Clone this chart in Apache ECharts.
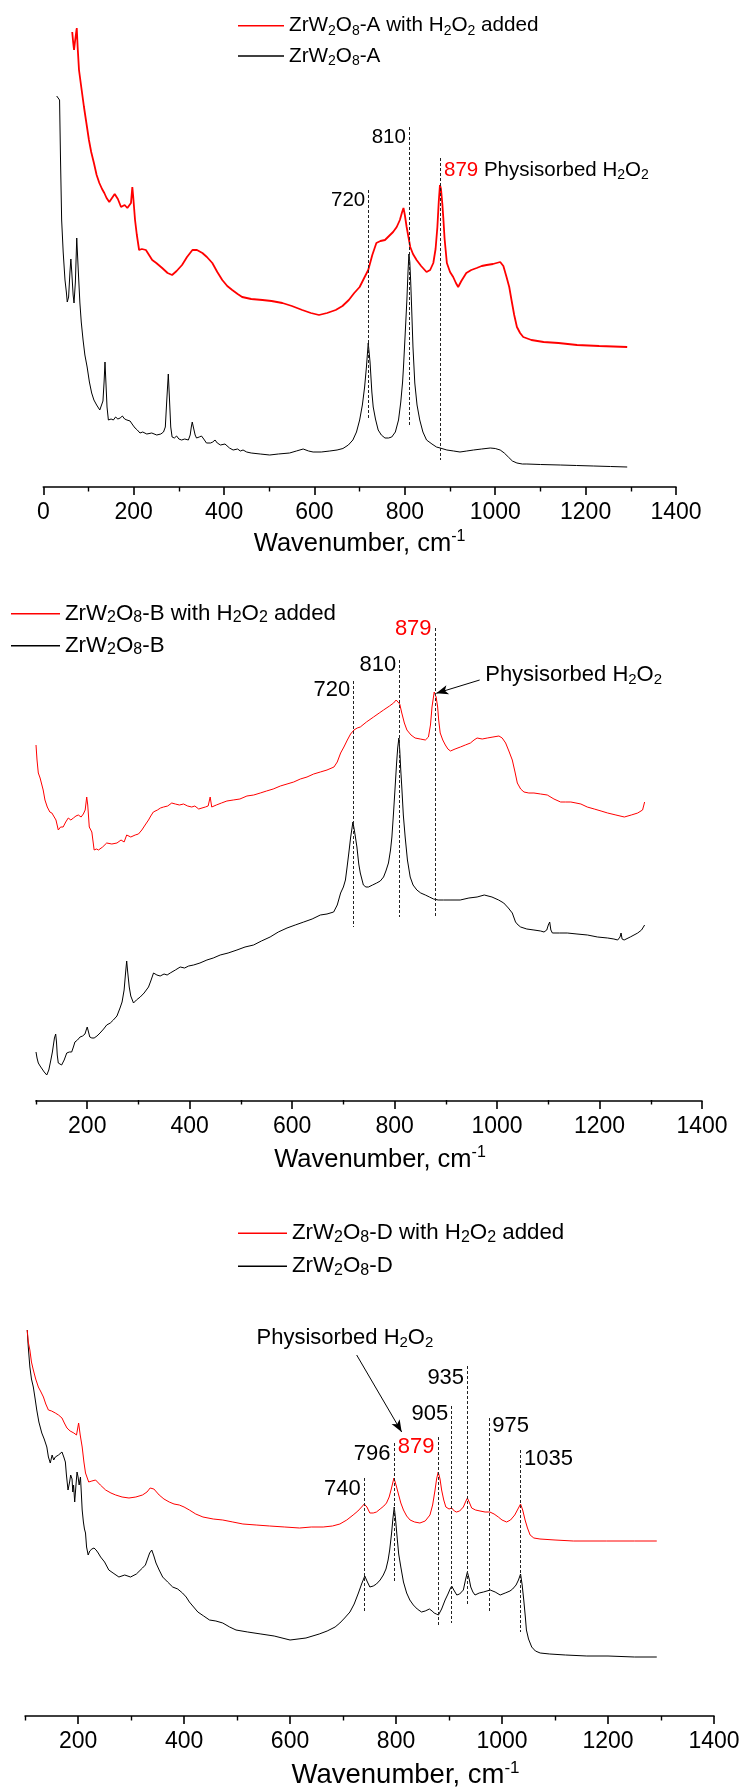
<!DOCTYPE html>
<html>
<head>
<meta charset="utf-8">
<title>Raman spectra of ZrW2O8 samples with and without H2O2</title>
<script src="https://cdn.jsdelivr.net/npm/echarts@6/dist/echarts.min.js"></script>
<style>
  html, body { margin: 0; padding: 0; background: #ffffff; }
  #chart { width: 743px; height: 1792px; }
</style>
</head>
<body>
<div id="chart"></div>
<script>
const FONT = '"Liberation Sans", Arial, Helvetica, sans-serif';
const RED = '#ff0000';
const BLACK = '#000000';

// ---- Raman spectra: [wavenumber (cm-1), intensity (a.u., offset per trace)] ----

// Sample A
const specA_H2O2 = [[64,455],[66,445],[68,437],[70,445],[72,452],[74,459],[76,440],[79,417],[84,400],[90,380],[95,365],[101,347],[106,335],[112,324],[118,312],[124,304],[130,298],[135,294],[140,289],[146,285],[152,289],[158,293],[161,294],[165,288],[172,280],[180,282],[186,279],[190,279],[194,284],[197,300],[199,290],[203,267],[207,252],[212,237],[218,238],[227,237],[234,232],[241,227],[250,224],[263,219],[275,214],[285,212],[295,216],[307,222],[318,230],[330,237],[340,237],[352,234],[362,230],[374,224],[385,215],[396,207],[407,201],[418,197],[430,193],[440,190],[460,188],[485,187],[505,186],[529,184],[550,181],[573,177],[592,174],[610,172],[628,174],[647,177],[662,181],[676,187],[688,194],[700,200],[710,209],[719,217],[728,232],[737,244],[746,246],[756,247],[765,251],[774,255],[782,260],[789,267],[794,275],[797,279],[800,272],[804,260],[808,250],[812,240],[818,233],[826,227],[836,221],[848,215],[856,217],[863,224],[868,238],[872,260],[875,285],[877.7,302],[880,298],[883,283],[885,270],[888,248],[893,224],[900,215],[907,210],[913,204],[918,200],[925,206],[936,214],[947,217],[959,219],[970,221],[981,222],[995,223],[1011,225],[1018,221],[1025,210],[1031,200],[1036,187],[1042,172],[1048,160],[1055,154],[1062,150],[1080,147],[1107,145],[1140,144],[1181,142],[1230,141],[1292,140]];
const specA = [[29.6,391],[33,393],[36,387],[38,330],[40.6,267],[44,235],[48,207],[51,195],[53,185],[56,190],[59,215],[61,228],[63,215],[66,192],[68,184],[71,205],[74,249],[77,220],[81,184],[84,165],[88,147],[92,132],[97,120],[102,105],[107,94],[112,87],[118,82],[125,77],[129,79],[132,86],[134.5,105],[136.5,125],[138.5,105],[141,80],[144,67],[150,68],[155,67],[160,70],[165,68],[170,69],[175,71],[180,68],[185,67],[192,66],[198,62],[203,59],[208,57],[214,54],[220,55],[229,53],[240,54],[251,52],[260,53],[266,55],[270,60],[273,85],[276.6,113],[279,90],[282,60],[285,50],[290,49],[295,51],[300,48],[306,47],[313,48],[321,47],[325,52],[327.5,60],[329.6,65],[332,60],[336,52],[339,49],[345,50],[350,51],[355,48],[361,44],[370,44],[375,45],[380,47],[385,44],[392,42],[402,43],[406,41],[412,39],[420,37],[430,38],[436,36],[442,37],[450,35],[460,34],[480,33],[501,32],[520,33],[545,34],[560,36],[575,38],[587,36],[597,35],[615,35],[634,36],[650,37],[663,38.5],[675,42],[685,47],[693,55],[700,67],[706,82],[711,100],[715,120],[719,144],[723,125],[727,95],[730,80],[735,68],[741,57],[748,52],[756,49],[764,49],[771,50],[779,55],[786,67],[791,85],[795,105],[797,120],[801,155],[804.5,187],[807,215],[809,233],[811,225],[813,205],[815,180],[818,140],[822,104],[827,82],[833,67],[840,55],[848,47],[860,43],[870,40],[878,39],[893,37],[908,36],[922,35],[937,36],[952,37],[970,38],[989,39],[1000,38.5],[1011,37],[1020,34],[1029,30],[1038,26],[1048,24],[1060,23],[1070,23],[1100,22.5],[1144,22],[1180,21.5],[1218,21],[1255,20.5],[1292,20]];

// Sample B
const specB_H2O2 = [[100,355],[102,340],[104.5,327],[108,322],[111,323],[114,310],[117.5,300],[122,293],[127,288],[131,287],[134,286],[139,280],[143.5,270],[148,273],[153,273],[158,278],[163,282],[168,280],[173,282],[178,284],[182.6,285],[188,283],[192.4,286],[196,290],[199,303],[201,295],[204,273],[209,268],[213.5,250],[218,251],[222,250],[230,253],[238,257],[248,256],[258,257],[266,260],[272,258],[277,265],[285,263],[293.6,265],[300,266],[306.6,270],[313,275],[319.6,280],[324,284],[329,288],[337,290],[343,292],[349,293],[357,294],[365,297],[372,296],[380,295],[388,296],[396,294],[404,293],[410,294],[417.6,291],[424,292],[430.6,293],[436,294],[440,303],[443,293],[452,295],[462,297],[472.6,299],[485,300],[498,301],[511.7,304],[525,305],[537.8,307],[550,309],[563,311],[577,314],[590,316],[603,318],[616,321],[629,323],[642,326],[655,328],[668,330],[681.6,333],[688,338],[694.6,347],[701,353],[707.7,360],[714,366],[720.7,370],[727,372],[733,373],[745,378],[758.9,383],[770,387],[778.4,390],[790,394],[798,397],[803,400],[806.4,402],[810,396],[814,387],[819,377],[824,370],[832,365],[840,362],[850,361],[860,360],[866,363],[870,375],[873,393],[877.3,408],[881,403],[884,393],[886,380],[889,367],[894,360],[899,355],[904,351],[909,349],[918,351],[928.4,353],[938,355],[948,357],[955,360],[961,362],[971,361],[981,362],[992,363],[1003.6,364],[1010,362],[1016.7,357],[1023,349],[1029.7,340],[1035,328],[1039.5,317],[1046,311],[1052.5,308],[1062,307],[1072,307],[1085,306],[1098,305],[1111,301],[1124,298],[1134,298],[1144,298],[1154,297],[1163.6,296],[1176,293],[1189.7,291],[1203,289],[1215.8,287],[1232,285],[1248.4,283],[1262,285],[1274.5,287],[1284,290],[1288,298]];
const specB = [[100,48],[102,42],[104.5,37],[108,34],[111,32],[116,28],[121,25],[125,30],[129,40],[132,48],[134,55],[136,62],[138.4,66],[140,58],[141.5,45],[143.5,37],[147,36],[150,35],[155,40],[160,47],[165,48],[169.6,48],[173,53],[176,58],[181,60],[186,63],[191,64],[195.6,66],[198,70],[200,73],[202,69],[205,63],[209,62],[213.5,62],[219,64],[225,67],[232,71],[238,75],[245,77],[251,80],[258,84],[264,92],[268,98],[272,110],[275,128],[277,139],[279,128],[282,113],[285,104],[290.3,97],[296,100],[303.4,103],[311,107],[319.6,113],[324,119],[329.4,127],[336,125],[342.4,124],[350,126],[356,125],[362,127],[372,130],[381.5,133],[390,132],[398,134],[407.6,135],[420,137],[433.6,140],[446,142],[459.6,145],[475,147],[492.2,150],[508,153],[524.7,155],[540,159],[557,163],[573,168],[590,172],[606,175],[622.6,178],[639,181],[655,185],[668,186],[681,188],[688,195],[694.6,207],[700,213],[704,220],[707,232],[710.6,247],[714,262],[718.6,278],[722,268],[726.4,253],[730,236],[733,227],[739,215],[744,213],[749,213],[757,215],[765,217],[772,219],[778.4,223],[783,229],[788,237],[792,250],[794.7,263],[798,288],[801,313],[804,338],[806,352],[808.3,362],[810,350],[812,330],[814,313],[817,285],[820.6,263],[825,240],[830.4,223],[836,215],[843.4,210],[851,207],[860,205],[868,203],[876,201],[885,200],[895.6,200],[910,200],[928,200],[945,202],[961,203],[975,205],[990,203],[1003,200],[1013,197],[1022,192],[1029.7,187],[1036,178],[1041,175],[1046,173],[1058,171],[1072,170],[1085,169],[1091.6,168],[1097,170],[1100,175],[1102.7,178],[1105,170],[1108,167],[1122,167],[1137,167],[1156,166],[1176.5,165],[1196,163],[1215.8,162],[1228,161],[1235.4,160],[1240,163],[1242,167],[1244,161],[1248,160],[1260,163],[1274.5,167],[1282,170],[1288,175]];

// Sample D
const specD_H2O2 = [[104,417],[106,405],[109,397],[112,385],[115.5,377],[120,368],[125,360],[130,355],[134.6,350],[139,343],[144,337],[150,336],[157,334],[163,332],[169.6,329],[174,324],[179,319],[185,316],[192,314],[197,312],[199,318],[201,324],[204,312],[207.7,300],[211,285],[214,274],[220,265],[226,266],[233,267],[242,262],[252,257],[262,254],[271,252],[283,250],[296,249],[309,250],[321.5,252],[330,255],[336,259],[339,261],[343,258],[348,255],[353,252],[362,248],[372,245],[381,243],[391,242],[400,240],[410,237],[422,233],[435.6,230],[455,228],[473,227],[492,225],[511,223],[536,222],[561.6,221],[590,220],[618,219],[640,220],[662.5,220],[680,221],[694,223],[707,227],[719,232],[728,236],[735,240],[740,243],[745,240],[750.6,234],[757,234],[763,235],[770,238],[777,241],[782,244],[787,250],[791,258],[796,269],[800,262],[804,254],[809,244],[814,237],[820,231],[826.5,227],[835,225],[845,224],[855,226],[864,232],[869,242],[873.6,257],[876.5,268],[879.6,275],[883,268],[886,257],[890,247],[894,240],[900,238],[905,239],[910,236],[914,235],[920,236],[927,240],[931,245],[934.6,249],[938,245],[942.7,239],[950,237],[958.5,236],[968,235],[977,235],[985,233],[993,230],[1000,227],[1008.6,225],[1016,227],[1024,232],[1030,238],[1035,243],[1039,237],[1043.5,227],[1048,219],[1053,212],[1060,209],[1071.6,208],[1100,207],[1134.5,206],[1197.5,206],[1250,206],[1292,206]];
const specD = [[104,417],[106,400],[109,380],[112,368],[115.5,360],[119,348],[122,337],[126,325],[131.5,314],[136,308],[141,300],[144,290],[147.5,284],[151,292],[154,287],[157,290],[163,292],[169.6,295],[173,290],[176,285],[178,272],[181,257],[184,265],[186,272],[188.6,268],[190,255],[191.5,262],[193.6,245],[196,262],[198,275],[200,270],[202,262],[204.5,270],[206,255],[207.7,237],[210,225],[212,218],[214,214],[216,200],[219,192],[222,196],[226,198],[230,199],[234,197],[238,194],[242.5,190],[250,185],[258,177],[266,174],[277,170],[288,172],[299,170],[310,173],[321.5,179],[327,182],[331,188],[335,194],[339,197],[343,191],[347,184],[353,177],[359.6,170],[369,165],[378.5,160],[388,158],[397,154],[404,150],[410,145],[418,140],[426,135],[437,131],[448,127],[460,126],[473,124],[486,120],[498,117],[520,115],[545,113],[570,111],[600,107],[630,109],[655,113],[670,116],[685,120],[694,124],[703,129],[713,135],[721,143],[729,154],[735,163],[741,171],[746,165],[750.6,160],[757,161],[763,163],[770,167],[776,172],[781,178],[785,187],[788,197],[791.6,214],[794,228],[796.6,240],[799,228],[802.5,207],[805,193],[809,180],[814,165],[820,154],[826,147],[832.6,142],[840,138],[848,135],[855,136],[863,138],[868,136],[872,134],[876,133],[880,132],[886,138],[892.6,147],[898,153],[902,158],[905,161],[909,157],[914.6,152],[920,153],[927,157],[931,167],[934.6,175],[938,168],[941,160],[945,155],[949,152],[957,154],[965,155],[977.6,157],[987,155],[996.5,152],[1006,154],[1015,156],[1020,158],[1026.5,162],[1031,167],[1035,173],[1038,162],[1041,147],[1044,130],[1046,117],[1050,108],[1056,100],[1063,96],[1072,94],[1090,93],[1120,92],[1160,91],[1200,91],[1250,90],[1292,90]];

// ---- axis ticks ----
const ticksA = [0, 200, 400, 600, 800, 1000, 1200, 1400];
const minorTicksA = [100, 300, 500, 700, 900, 1100, 1300];
const ticksBD = [200, 400, 600, 800, 1000, 1200, 1400];
const minorTicksBD = [100, 300, 500, 700, 900, 1100, 1300];

// ---- peak guides: [wavenumber, top, bottom] ----
const guidesA = [[720, 297, 67], [810, 360, 60], [879, 329, 27]];
const guidesB = [[720, 419, 173], [810, 440, 183], [879, 472, 182]];
const guidesD = [[740, 269, 135], [796, 304, 165], [879, 310, 122], [905, 341, 124], [935, 381, 143], [975, 329, 134], [1035, 297, 115]];

// ---- annotation text: [wavenumber, height, text, side] ----
const notesA = [[720, 287, '720', 'left'], [810, 350, '810', 'left'], [879, 317, '{r|879} Physisorbed H{s|2}O{s|2}', 'right']];
const notesB = [[720, 410, '720', 'left'], [810, 435, '810', 'left'], [879, 471, '{r|879}', 'left'], [970, 425, 'Physisorbed H{s|2}O{s|2}', 'right']];
const notesD = [[740, 258, '740', 'left'], [796, 293, '796', 'left'], [879, 300, '{r|879}', 'left'], [905, 333, '905', 'left'], [935, 369, '935', 'left'], [975, 321, '975', 'right'], [1035, 288, '1035', 'right'], [530, 409, 'Physisorbed H{s|2}O{s|2}', 'right']];

// ---- arrows: [from, to] ----
const arrowsB = [[[966, 420], [881.3, 406.7]]];
const arrowsD = [[[725.7, 392], [810.6, 315]]];

// ---- legend names ----
const namesA = ['ZrW2O8-A with H2O2 added', 'ZrW2O8-A'];
const namesB = ['ZrW2O8-B with H2O2 added', 'ZrW2O8-B'];
const namesD = ['ZrW2O8-D with H2O2 added', 'ZrW2O8-D'];

// rich-text styles: subscript digits and red peak numbers
function richFor(size) {
  const sub = Math.round(size * 0.7);
  return {
    n: { fontSize: size, lineHeight: 24, color: BLACK, fontFamily: FONT },
    s: { fontSize: sub, lineHeight: sub, verticalAlign: 'bottom', fontFamily: FONT, color: BLACK },
    r: { fontSize: size, lineHeight: 24, color: RED, fontFamily: FONT }
  };
}
const chem = (t) => t.replace(/([A-Za-z])(\d)/g, '$1{s|$2}');

// layout of the three stacked panels
const panels = [
  { red: specA_H2O2, black: specA, names: namesA, ticks: ticksA, minor: minorTicksA, guides: guidesA, notes: notesA, arrows: [],
    xMin: 0, yMin: 0, yMax: 467, grid: { left: 43.3, right: 67, top: 20, bottom: 1305 },
    legend: { left: 238, top: 13.7, width: 46, gap: 6.3, size: 20.7 }, noteSize: 20.5, redWidth: 1.8,
    title: { size: 25.5, gap: 42, shift: 0 } },
  { red: specB_H2O2, black: specB, names: namesB, ticks: ticksBD, minor: minorTicksBD, guides: guidesB, notes: notesB, arrows: arrowsB,
    xMin: 100, yMin: -1, yMax: 500, grid: { left: 36, right: 41, top: 600, bottom: 691 },
    legend: { left: 11, top: 601.7, width: 49, gap: 8, size: 22.3 }, noteSize: 22, redWidth: 1,
    title: { size: 25.5, gap: 44, shift: 11 } },
  { red: specD_H2O2, black: specD, names: namesD, ticks: ticksBD, minor: minorTicksBD, guides: guidesD, notes: notesD, arrows: arrowsD,
    xMin: 100, yMin: 31, yMax: 447, grid: { left: 25.1, right: 29, top: 1300, bottom: 76 },
    legend: { left: 238, top: 1221.3, width: 49, gap: 9, size: 22.3 }, noteSize: 22, redWidth: 1,
    title: { size: 27.5, gap: 44, shift: 36 } }
];

const option = {
  animation: false,
  backgroundColor: '#ffffff',
  textStyle: { fontFamily: FONT, color: BLACK },
  grid: [], xAxis: [], yAxis: [], legend: [], series: []
};

panels.forEach((p, i) => {
  option.grid.push(Object.assign({ containLabel: false }, p.grid));
  const axisMain = 2 * i;
  option.xAxis.push({
    gridIndex: i, type: 'value', min: p.xMin, max: 1400, position: 'bottom',
    name: 'Wavenumber, cm{sup|-1}', nameLocation: 'middle', nameGap: p.title.gap,
    nameTextStyle: {
      fontFamily: FONT, fontSize: p.title.size, lineHeight: 30, color: BLACK,
      padding: [0, 0, 0, p.title.shift * 2],
      rich: { sup: { fontSize: Math.round(p.title.size * 0.62), lineHeight: 16, verticalAlign: 'top', fontFamily: FONT, color: BLACK } }
    },
    axisLine: { show: true, onZero: false, lineStyle: { color: BLACK, width: 1.6 } },
    axisTick: { show: true, length: 8, customValues: p.ticks, lineStyle: { color: BLACK, width: 1.6 } },
    axisLabel: { show: true, customValues: p.ticks, margin: 14, fontFamily: FONT, fontSize: 23, color: BLACK,
                 formatter: (v) => String(v) },
    splitLine: { show: false }
  });
  option.xAxis.push({
    gridIndex: i, type: 'value', min: p.xMin, max: 1400, position: 'bottom', offset: 0,
    axisLine: { show: false },
    axisTick: { show: true, length: 4.5, customValues: p.minor, lineStyle: { color: BLACK, width: 1.4 } },
    axisLabel: { show: false },
    splitLine: { show: false }
  });
  option.yAxis.push({ gridIndex: i, type: 'value', min: p.yMin, max: p.yMax, show: false, splitLine: { show: false } });

  option.legend.push({
    data: p.names.map(n => ({ name: n, icon: 'rect' })),
    orient: 'vertical', left: p.legend.left, top: p.legend.top,
    itemWidth: p.legend.width, itemHeight: 1.5, itemGap: p.legend.gap, selectedMode: false, padding: 0,
    formatter: chem,
    textStyle: { fontFamily: FONT, fontSize: p.legend.size, lineHeight: 24, color: BLACK, rich: richFor(p.legend.size) }
  });

  const guideLines = p.guides.map(g => [
    { coord: [g[0], g[1]] }, { coord: [g[0], g[2]] }
  ]);
  const arrowLines = p.arrows.map(a => [
    { coord: a[0], symbol: 'none', lineStyle: { type: 'solid', color: BLACK, width: 1 } },
    { coord: a[1], symbol: 'arrow', symbolSize: [7, 12] }
  ]);

  option.series.push({
    name: p.names[1], type: 'line', xAxisIndex: axisMain, yAxisIndex: i,
    data: p.black, symbol: 'none', showSymbol: false, smooth: false, silent: true, z: 3,
    lineStyle: { color: BLACK, width: 1 }, itemStyle: { color: BLACK }
  });
  option.series.push({
    name: p.names[0], type: 'line', xAxisIndex: axisMain, yAxisIndex: i,
    data: p.red, symbol: 'none', showSymbol: false, smooth: false, silent: true, z: 4,
    lineStyle: { color: RED, width: p.redWidth }, itemStyle: { color: RED },
    markLine: {
      silent: true, symbol: ['none', 'none'], precision: 2, animation: false,
      label: { show: false },
      lineStyle: { type: [3, 2], color: '#222222', width: 1 },
      emphasis: { disabled: true },
      data: guideLines.concat(arrowLines)
    }
  });
  // peak numbers and notes, written next to their guide lines
  option.series.push({
    type: 'scatter', xAxisIndex: axisMain, yAxisIndex: i, silent: true, z: 10,
    symbol: 'circle', symbolSize: 1, itemStyle: { color: BLACK, opacity: 0 },
    label: { show: true, distance: 3, fontFamily: FONT, fontSize: p.noteSize, lineHeight: 24,
             color: BLACK, opacity: 1, textBorderWidth: 0, rich: richFor(p.noteSize) },
    data: p.notes.map(n => ({ value: [n[0], n[1]], label: { position: n[3], formatter: n[2] } }))
  });
});

const chart = echarts.init(document.getElementById('chart'), null, { renderer: 'canvas' });
chart.setOption(option);
</script>
</body>
</html>
